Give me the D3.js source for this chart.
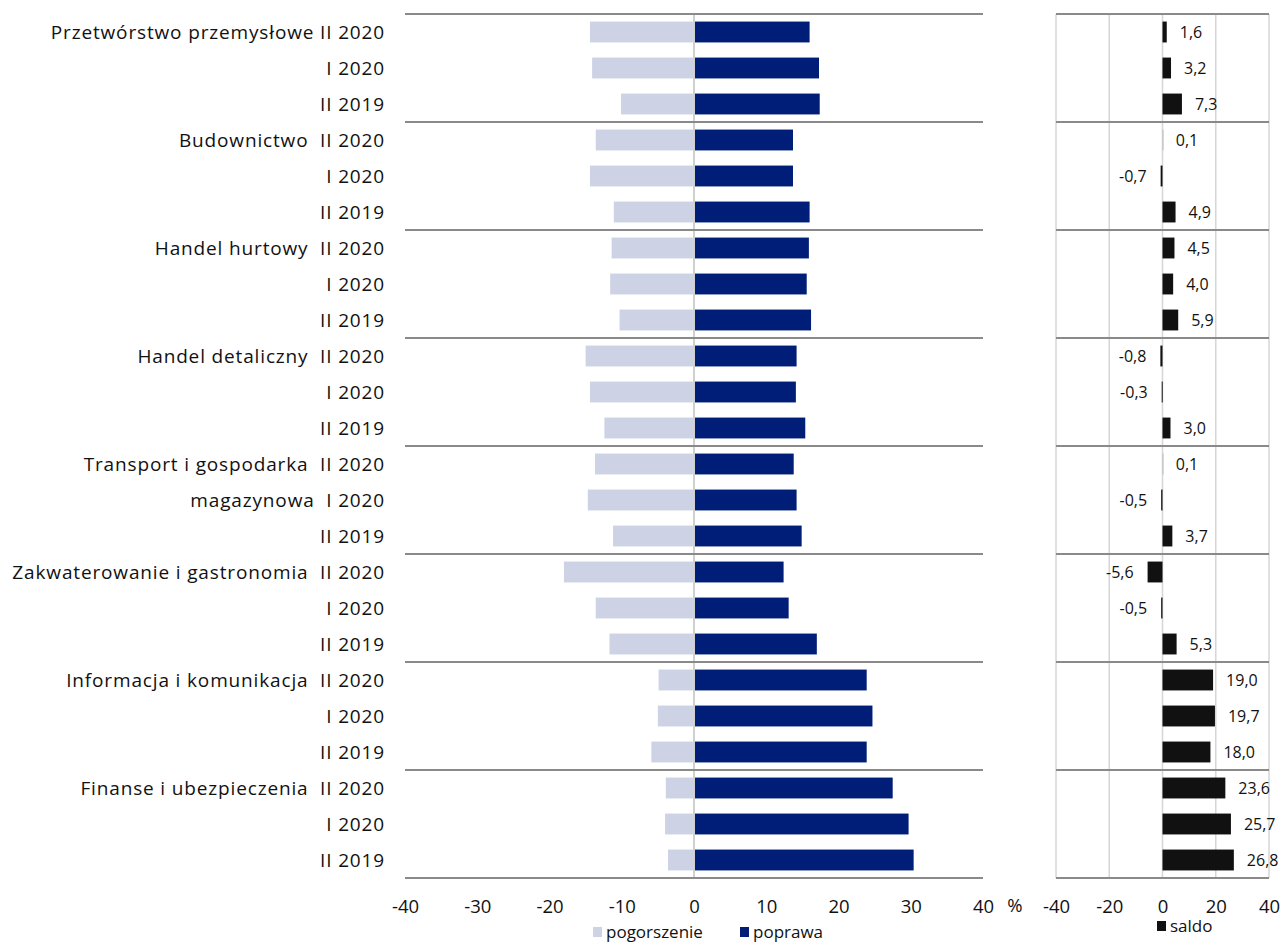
<!DOCTYPE html>
<html>
<head>
<meta charset="utf-8">
<script src="https://cdn.jsdelivr.net/npm/d3@7"></script>
<style>
  html, body { margin: 0; padding: 0; background: #fff; }
  svg { display: block; font-family: "Open Sans", "Noto Sans", sans-serif; }
</style>
</head>
<body>
<div id="chart"></div>
<script>
// ---- data ----
const rowLabels = [
  "Przetwórstwo przemysłowe II 2020", "I 2020", "II 2019",
  "Budownictwo  II 2020", "I 2020", "II 2019",
  "Handel hurtowy  II 2020", "I 2020", "II 2019",
  "Handel detaliczny  II 2020", "I 2020", "II 2019",
  "Transport i gospodarka  II 2020", "magazynowa  I 2020", "II 2019",
  "Zakwaterowanie i gastronomia  II 2020", "I 2020", "II 2019",
  "Informacja i komunikacja  II 2020", "I 2020", "II 2019",
  "Finanse i ubezpieczenia  II 2020", "I 2020", "II 2019"
];
const pogorszenie = [
  -14.4, -14.1, -10.1,
  -13.6, -14.4, -11.1,
  -11.4, -11.6, -10.3,
  -15.0, -14.4, -12.4,
  -13.7, -14.7, -11.2,
  -18.0, -13.6, -11.7,
  -4.9, -5.0, -5.9,
  -3.9, -4.0, -3.6
];
const poprawa = [
  16.0, 17.3, 17.4,
  13.7, 13.7, 16.0,
  15.9, 15.6, 16.2,
  14.2, 14.1, 15.4,
  13.8, 14.2, 14.9,
  12.4, 13.1, 17.0,
  23.9, 24.7, 23.9,
  27.5, 29.7, 30.4
];
const saldo = [
  1.6, 3.2, 7.3,
  0.1, -0.7, 4.9,
  4.5, 4.0, 5.9,
  -0.8, -0.3, 3.0,
  0.1, -0.5, 3.7,
  -5.6, -0.5, 5.3,
  19.0, 19.7, 18.0,
  23.6, 25.7, 26.8
];
const leftTicks = [-40, -30, -20, -10, 0, 10, 20, 30, 40];
const rightTicks = [-40, -20, 0, 20, 40];
const groupSize = 3;

// ---- layout ----
const W = 1282, H = 944;
const plotTop = 14, plotBottom = 878;
const colLight = "#cdd2e4", colDark = "#001e77", colSaldo = "#111111";
const locale = d3.formatLocale({ decimal: ",", thousands: " ", grouping: [3], currency: ["", " zł"], minus: "-" });
const fmt = locale.format(".1f");

const svg = d3.select("#chart").append("svg").attr("width", W).attr("height", H);

const rows = d3.range(rowLabels.length);
const y = d3.scaleBand().domain(rows).range([plotTop, plotBottom]).paddingInner(0.42).paddingOuter(0.21);

const xL = d3.scaleLinear().domain([-40, 40]).range([405, 983]);
const xR = d3.scaleLinear().domain([-40, 40]).range([1056, 1269]);

const groupBounds = d3.range(0, rowLabels.length + 1, groupSize).map(i =>
  i < rowLabels.length ? y(i) - y.step() * y.paddingInner() / 2 : plotBottom);

// right gridlines
svg.append("g").selectAll("line").data(rightTicks).join("line")
  .attr("x1", d => xR(d)).attr("x2", d => xR(d))
  .attr("y1", plotTop).attr("y2", plotBottom)
  .attr("stroke", "#d6d6d6").attr("stroke-width", 1.5);

// left zero line
svg.append("line")
  .attr("x1", xL(0)).attr("x2", xL(0)).attr("y1", plotTop).attr("y2", plotBottom)
  .attr("stroke", "#d0d0d0").attr("stroke-width", 2);

// left bars
svg.append("g").selectAll("rect").data(rows).join("rect")
  .attr("x", i => xL(pogorszenie[i])).attr("width", i => xL(0) - xL(pogorszenie[i]))
  .attr("y", i => y(i)).attr("height", y.bandwidth())
  .attr("fill", colLight);
svg.append("g").selectAll("rect").data(rows).join("rect")
  .attr("x", xL(0) + 1).attr("width", i => xL(poprawa[i]) - xL(0) - 1)
  .attr("y", i => y(i)).attr("height", y.bandwidth())
  .attr("fill", colDark);

// right bars
svg.append("g").selectAll("rect").data(rows).join("rect")
  .attr("x", i => Math.min(xR(0), xR(saldo[i])))
  .attr("width", i => Math.max(1, Math.abs(xR(saldo[i]) - xR(0))))
  .attr("y", i => y(i)).attr("height", y.bandwidth())
  .attr("fill", i => Math.abs(saldo[i]) < 0.2 ? "#bbbbbb" : colSaldo);

// saldo labels
svg.append("g").selectAll("text").data(rows).join("text")
  .attr("x", i => saldo[i] >= 0 ? Math.max(xR(saldo[i]), xR(0)) + 13 : xR(saldo[i]) - 14)
  .attr("y", i => y(i) + y.bandwidth() / 2)
  .attr("dy", "0.36em")
  .attr("text-anchor", i => saldo[i] >= 0 ? "start" : "end")
  .attr("font-size", 16).attr("fill", "#111")
  .text(i => fmt(saldo[i]));

// group separator lines
const sep = svg.append("g");
sep.selectAll("line.l").data(groupBounds).join("line").attr("class", "l")
  .attr("x1", 405).attr("x2", 983).attr("y1", d => d).attr("y2", d => d)
  .attr("stroke", "#8a8a8a").attr("stroke-width", 2);
sep.selectAll("line.r").data(groupBounds).join("line").attr("class", "r")
  .attr("x1", 1056).attr("x2", 1269).attr("y1", d => d).attr("y2", d => d)
  .attr("stroke", "#8a8a8a").attr("stroke-width", 2);

// category labels
svg.append("g").selectAll("text").data(rows).join("text")
  .attr("x", 385).attr("y", i => y(i) + y.bandwidth() / 2)
  .attr("dy", "0.36em").attr("text-anchor", "end")
  .attr("font-size", 19).attr("letter-spacing", 0.85).attr("fill", "#111")
  .style("white-space", "pre")
  .text(i => rowLabels[i]);

// x axes
const axL = svg.append("g").attr("transform", `translate(0,${plotBottom})`)
  .call(d3.axisBottom(xL).tickValues(leftTicks).tickSize(0).tickPadding(22).tickFormat(d => d));
const axR = svg.append("g").attr("transform", `translate(0,${plotBottom})`)
  .call(d3.axisBottom(xR).tickValues(rightTicks).tickSize(0).tickPadding(22).tickFormat(d => d));
[axL, axR].forEach(a => {
  a.select(".domain").remove();
  a.selectAll("text").attr("font-size", 18.5).attr("fill", "#111")
    .attr("font-family", "'Open Sans', 'Noto Sans', sans-serif");
});

svg.append("text").attr("x", 1015).attr("y", 912).attr("text-anchor", "middle")
  .attr("font-size", 18.5).attr("fill", "#111").text("%");

// legend
const legend = [
  { label: "pogorszenie", color: colLight, x: 593, y: 927 },
  { label: "poprawa", color: colDark, x: 740, y: 927 },
  { label: "saldo", color: colSaldo, x: 1157, y: 921 }
];
const lg = svg.append("g").selectAll("g").data(legend).join("g")
  .attr("transform", d => `translate(${d.x},${d.y})`);
lg.append("rect").attr("width", 9).attr("height", 10).attr("fill", d => d.color);
lg.append("text").attr("x", 13).attr("y", 5).attr("dy", "0.36em")
  .attr("font-size", 17).attr("fill", "#111").text(d => d.label);
</script>
</body>
</html>
